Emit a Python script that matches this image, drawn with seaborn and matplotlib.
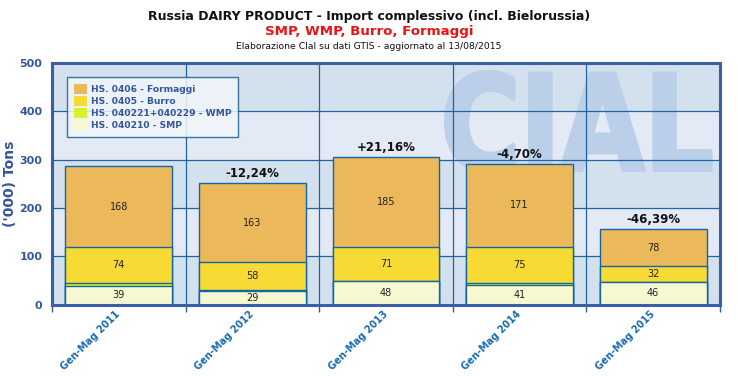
import matplotlib
matplotlib.use("Agg")
import matplotlib.pyplot as plt
import seaborn as sns
import pandas as pd
import numpy as np
from matplotlib.patches import Rectangle, PathPatch
from matplotlib.textpath import TextPath
from matplotlib.font_manager import FontProperties
from matplotlib.transforms import Affine2D

periods = ["Gen-Mag 2011", "Gen-Mag 2012", "Gen-Mag 2013", "Gen-Mag 2014", "Gen-Mag 2015"]
smp = [39, 29, 48, 41, 46]
wmp = [6, 1, 1, 4, 1]
burro = [74, 58, 71, 75, 32]
formaggi = [168, 163, 185, 171, 78]
changes = ["", "-12,24%", "+21,16%", "-4,70%", "-46,39%"]

series_names = ["HS. 040210 - SMP", "HS. 040221+040229 - WMP", "HS. 0405 - Burro", "HS. 0406 - Formaggi"]
series_vals = [smp, wmp, burro, formaggi]
colors = ["#f7f8d2", "#d4f52a", "#f7da33", "#ebb95a"]
show_labels = [True, False, True, True]

sns.set_theme(style="white")
plt.rcParams['font.family'] = ['DejaVu Sans']

fig = plt.figure(figsize=(7.38, 3.76), dpi=100)
ax = fig.add_axes([0.0705, 0.19, 0.905, 0.642])
ax.set_xlim(-0.5, 4.5)
ax.set_ylim(0, 500)

# background bands
for i, lo in enumerate(range(0, 500, 100)):
    ax.axhspan(lo, lo + 100, color="#d3e1ee" if i % 2 == 0 else "#e3eaf5", zorder=0, lw=0)

# watermark logo fitted to a box (data coords)
tp = TextPath((0, 0), "CIAL", size=1, prop=FontProperties(family="DejaVu Sans", weight="bold"))
ext = tp.get_extents()
x0, x1, y0, y1 = 2.45, 4.43, 275, 482
tr = (Affine2D().translate(-ext.x0, -ext.y0)
      .scale((x1 - x0) / ext.width, (y1 - y0) / ext.height)
      .translate(x0, y0))
logo = PathPatch(tr.transform_path(tp), facecolor="#bccfe9", edgecolor="#bccfe9",
                 lw=3, joinstyle="round", zorder=0.5)
ax.add_patch(logo)

# gridlines
for y in range(100, 500, 100):
    ax.axhline(y, color="#1f63a0", lw=0.9, zorder=1)
for x in np.arange(0.5, 4.6, 1):
    ax.axvline(x, color="#1f63a0", lw=0.9, zorder=1)

df = pd.DataFrame({"period": periods})
cum = np.zeros(len(periods))
cums = []
for vals in series_vals:
    cum = cum + np.array(vals)
    cums.append(cum.copy())

for k in range(len(series_vals) - 1, -1, -1):
    df["v"] = cums[k]
    sns.barplot(data=df, x="period", y="v", color=colors[k], width=0.8,
                edgecolor="#1565a0", linewidth=1.0, saturation=1, ax=ax, zorder=2)

bottom = np.zeros(len(periods))
for k, vals in enumerate(series_vals):
    for i, v in enumerate(vals):
        if show_labels[k]:
            ax.text(i, bottom[i] + v / 2, str(v), ha="center", va="center",
                    fontsize=7, color="#222222", zorder=5)
    bottom = bottom + np.array(vals)

for i, c in enumerate(changes):
    if c:
        ax.text(i, bottom[i] + 6, c, ha="center", va="bottom", fontsize=8.5,
                fontweight="bold", color="#111111", zorder=5)

ax.set_xlim(-0.5, 4.5)
ax.set_ylim(0, 500)
ax.set_yticks(range(0, 501, 100))
ax.set_xlabel("")
ax.set_ylabel("('000) Tons", fontsize=10, fontweight="bold", color="#34569a")
ax.yaxis.set_label_coords(-0.052, 0.5)
ax.tick_params(axis="y", labelsize=8, labelcolor="#34569a", length=0, pad=7)
for t in ax.get_yticklabels():
    t.set_fontweight("bold")
ax.set_xticks(range(5))
ax.set_xticklabels(periods, rotation=45, ha="right", va="center", rotation_mode="anchor",
                   fontsize=7.0, fontweight="bold", color="#1a6ab0")
ax.set_xticks(np.arange(-0.5, 5, 1), minor=True)
ax.tick_params(axis="x", which="major", length=0, pad=6)
ax.tick_params(axis="x", which="minor", length=5, color="#34569a", width=1, bottom=True)
for s in ax.spines.values():
    s.set_color("#3a5fa6")
    s.set_linewidth(2.2)
    s.set_zorder(6)

handles = [Rectangle((0, 0), 1, 1, facecolor=colors[k], edgecolor="none") for k in [3, 2, 1, 0]]
labels = [series_names[k] for k in [3, 2, 1, 0]]
leg = ax.legend(handles, labels, loc="upper left", bbox_to_anchor=(0.016, 0.96),
                frameon=True, fontsize=6.6, handlelength=1.4, handleheight=1.4,
                handletextpad=0.5, labelspacing=0.15, borderpad=0.7, fancybox=False)
leg.get_frame().set_edgecolor("#1a5f95")
leg.get_frame().set_facecolor("#f2f6fb")
leg.get_frame().set_alpha(0.85)
leg.get_frame().set_linewidth(1.0)
for t in leg.get_texts():
    t.set_fontweight("bold")
    t.set_color("#34569a")
leg.set_zorder(7)

fig.text(0.5, 0.957, "Russia DAIRY PRODUCT - Import complessivo (incl. Bielorussia)",
         ha="center", va="center", fontsize=9, fontweight="bold", color="#111111")
fig.text(0.5, 0.915, "SMP, WMP, Burro, Formaggi", ha="center", va="center",
         fontsize=9.6, fontweight="bold", color="#ee1111")
fig.text(0.5, 0.877, "Elaborazione Clal su dati GTIS - aggiornato al 13/08/2015",
         ha="center", va="center", fontsize=6.7, color="#111111")

fig.savefig("out.png", dpi=100)
